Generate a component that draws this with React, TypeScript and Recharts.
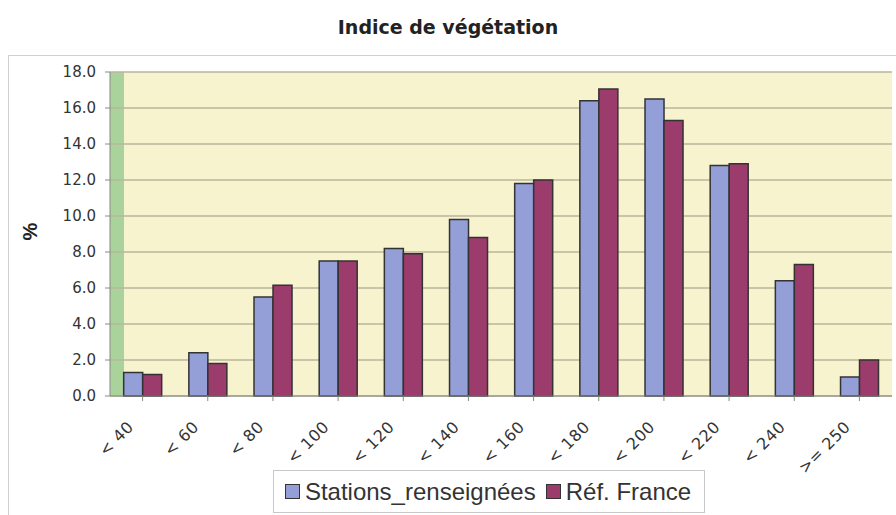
import React from "react"
import { BarChart, Bar, XAxis, YAxis, CartesianGrid, Legend } from "recharts"

const categories = ["< 40", "< 60", "< 80", "< 100", "< 120", "< 140", "< 160", "< 180", "< 200", "< 220", "< 240", ">= 250"]
const stations = [1.3, 2.4, 5.5, 7.5, 8.2, 9.8, 11.8, 16.4, 16.5, 12.8, 6.4, 1.05]
const refFrance = [1.2, 1.8, 6.15, 7.5, 7.9, 8.8, 12.0, 17.05, 15.3, 12.9, 7.3, 2.0]
const yTicks = [0, 2, 4, 6, 8, 10, 12, 14, 16, 18]

const data = categories.map((c, i) => ({ name: c, stations: stations[i], france: refFrance[i] }))

const BLUE = "#939fd6"
const RED = "#9b3c6c"
const FONT = "'Liberation Sans', Arial, sans-serif"
const WIDE = "'DejaVu Sans', sans-serif"

function XTick(props: any) {
  const { x, y, payload } = props
  return (
    <g transform={`translate(${x - 8},${y + 25})`}>
      <text transform="rotate(-45)" textAnchor="end" fontSize={16} fill="#333" fontFamily={WIDE} letterSpacing={0.5}>
        {payload.value}
      </text>
    </g>
  )
}

function LegendBox() {
  const item = (color: string, label: string) => (
    <span style={{ display: "inline-flex", alignItems: "center", marginRight: 10 }}>
      <span style={{ width: 13, height: 13, background: color, border: "1px solid #333", marginRight: 5 }} />
      {label}
    </span>
  )
  return (
    <div
      style={{
        width: 432,
        height: 43,
        boxSizing: "border-box",
        border: "1px solid #c8c8c8",
        display: "flex",
        alignItems: "center",
        justifyContent: "center",
        fontFamily: FONT,
        fontSize: 24,
        color: "#333",
        background: "#fff",
        paddingLeft: 8,
      }}
    >
      {item(BLUE, "Stations_renseignées")}
      {item(RED, "Réf. France")}
    </div>
  )
}

export default function App() {
  return (
    <div style={{ position: "absolute", left: 0, top: 0, width: 896, height: 515, background: "#fff", overflow: "hidden" }}>
      <div
        style={{
          position: "absolute",
          left: 0,
          top: 16,
          width: 896,
          textAlign: "center",
          fontFamily: WIDE,
          fontWeight: 700,
          fontSize: 19,
          color: "#222",
        }}
      >
        Indice de végétation
      </div>
      <div style={{ position: "absolute", left: 8, top: 55, width: 900, height: 470, border: "1px solid #d0d0d0" }} />
      <div
        style={{
          position: "absolute",
          left: 22,
          top: 220,
          transform: "rotate(-90deg)",
          fontFamily: FONT,
          fontWeight: 700,
          fontSize: 20,
          color: "#222",
        }}
      >
        %
      </div>
      <div style={{ position: "absolute", left: 0, top: 0 }}>
        <BarChart
          width={896}
          height={515}
          data={data}
          margin={{ top: 72, right: 4, left: 0, bottom: 2 }}
          barCategoryGap="21%"
          barGap={0}
        >
          <defs>
            <linearGradient id="plotBg" x1="0" y1="0" x2="1" y2="0">
              <stop offset="0" stopColor="#a9d39a" />
              <stop offset="0.018" stopColor="#a9d39a" />
              <stop offset="0.018" stopColor="#f8f3cf" />
              <stop offset="1" stopColor="#f8f3cf" />
            </linearGradient>
          </defs>
          <CartesianGrid vertical={false} stroke="#b9b69d" strokeWidth={1.5} fill="url(#plotBg)" fillOpacity={1} />
          <XAxis
            dataKey="name"
            interval={0}
            height={74}
            tick={<XTick />}
            tickSize={5}
            axisLine={{ stroke: "#888" }}
            tickLine={{ stroke: "#888" }}
          />
          <YAxis
            domain={[0, 18]}
            ticks={yTicks}
            width={110}
            tickFormatter={(v: number) => v.toFixed(1)}
            tick={{ fontSize: 15, fill: "#333", fontFamily: WIDE }}
            tickSize={5}
            tickMargin={9}
            axisLine={{ stroke: "#888" }}
            tickLine={{ stroke: "#888" }}
          />
          <YAxis yAxisId="r" orientation="right" width={0} tick={false} tickLine={false} axisLine={{ stroke: "#999" }} />
          <Legend
            verticalAlign="bottom"
            content={<LegendBox />}
            wrapperStyle={{ position: "absolute", left: 273, top: 470, width: 432, height: 43 }}
          />
          <Bar dataKey="stations" name="Stations_renseignées" fill={BLUE} stroke="#333" strokeWidth={1.5} isAnimationActive={false} />
          <Bar dataKey="france" name="Réf. France" fill={RED} stroke="#333" strokeWidth={1.5} isAnimationActive={false} />
        </BarChart>
      </div>
    </div>
  )
}
